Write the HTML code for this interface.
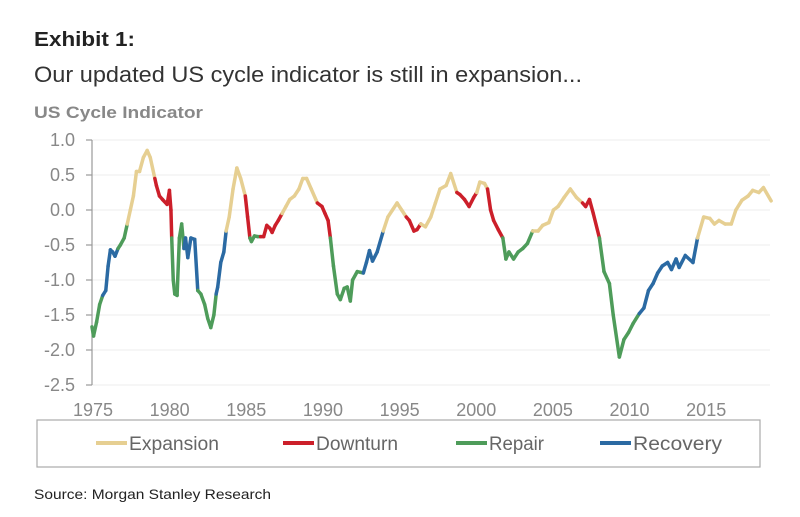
<!DOCTYPE html>
<html><head><meta charset="utf-8"><style>
html,body{margin:0;padding:0;background:#fff;}
svg{display:block;font-family:"Liberation Sans Narrow","Liberation Sans",sans-serif;}
</style></head><body>
<svg id="chart" width="800" height="517" viewBox="0 0 800 517" xmlns="http://www.w3.org/2000/svg">
<text x="34" y="46" font-size="20" font-weight="bold" fill="#222" textLength="101" lengthAdjust="spacingAndGlyphs">Exhibit 1:</text>
<text x="34" y="82" font-size="22" fill="#333" textLength="548" lengthAdjust="spacingAndGlyphs">Our updated US cycle indicator is still in expansion...</text>
<text x="34" y="118" font-size="17" font-weight="bold" fill="#888" textLength="169" lengthAdjust="spacingAndGlyphs">US Cycle Indicator</text>
<g id="grid"></g>
<g id="yaxis"></g>
<g id="xaxis"></g>
<g id="series"></g>
<g>
<rect x="37" y="420" width="723" height="47" fill="none" stroke="#aaa" stroke-width="1.2"/>
<g><line x1="96" y1="443" x2="127" y2="443" stroke="#e6cf92" stroke-width="4"/><text x="129" y="450" font-size="19" fill="#666" textLength="90" lengthAdjust="spacingAndGlyphs">Expansion</text></g>
<g><line x1="283" y1="443" x2="314" y2="443" stroke="#cc1f2a" stroke-width="4"/><text x="316" y="450" font-size="19" fill="#666" textLength="82" lengthAdjust="spacingAndGlyphs">Downturn</text></g>
<g><line x1="456" y1="443" x2="487" y2="443" stroke="#4e9c5a" stroke-width="4"/><text x="489" y="450" font-size="19" fill="#666" textLength="55" lengthAdjust="spacingAndGlyphs">Repair</text></g>
<g><line x1="600" y1="443" x2="631" y2="443" stroke="#2b6aa3" stroke-width="4"/><text x="633" y="450" font-size="19" fill="#666" textLength="89" lengthAdjust="spacingAndGlyphs">Recovery</text></g>
</g>
<text x="34" y="499" font-size="14" fill="#222" textLength="237" lengthAdjust="spacingAndGlyphs">Source: Morgan Stanley Research</text>
</svg>
<script>
const years=[1975.0,1975.1,1975.3,1975.5,1975.7,1975.9,1976.05,1976.2,1976.35,1976.5,1976.7,1976.85,1977.1,1977.3,1977.5,1977.7,1977.9,1978.1,1978.35,1978.6,1978.8,1979.1,1979.2,1979.4,1979.6,1979.9,1980.05,1980.15,1980.2,1980.3,1980.4,1980.55,1980.7,1980.85,1981.0,1981.1,1981.25,1981.45,1981.7,1981.9,1982.1,1982.35,1982.55,1982.75,1982.95,1983.1,1983.2,1983.4,1983.6,1983.75,1983.95,1984.2,1984.45,1984.7,1985.0,1985.15,1985.3,1985.4,1985.6,1985.8,1986.0,1986.2,1986.4,1986.6,1986.75,1986.95,1987.15,1987.4,1987.65,1987.9,1988.2,1988.5,1988.75,1989.0,1989.3,1989.7,1990.0,1990.2,1990.4,1990.55,1990.75,1991.0,1991.2,1991.45,1991.65,1991.85,1992.0,1992.3,1992.7,1992.9,1993.1,1993.3,1993.6,1994.0,1994.3,1994.6,1994.9,1995.2,1995.5,1995.7,1996.0,1996.2,1996.45,1996.75,1997.1,1997.4,1997.7,1998.1,1998.4,1998.8,1999.0,1999.3,1999.6,1999.9,2000.1,2000.3,2000.6,2000.8,2001.0,2001.2,2001.5,2001.8,2002.0,2002.2,2002.5,2002.8,2003.1,2003.4,2003.75,2004.1,2004.4,2004.8,2005.1,2005.4,2005.8,2006.2,2006.6,2007.0,2007.2,2007.45,2007.7,2008.1,2008.4,2008.75,2009.0,2009.4,2009.7,2010.0,2010.3,2010.7,2011.0,2011.3,2011.6,2011.9,2012.2,2012.55,2012.8,2013.1,2013.3,2013.7,2014.2,2014.5,2014.9,2015.3,2015.6,2015.9,2016.3,2016.7,2017.0,2017.4,2017.8,2018.1,2018.5,2018.8,2019.3];
const values=[-1.67,-1.8,-1.6,-1.35,-1.22,-1.15,-0.8,-0.57,-0.6,-0.66,-0.55,-0.5,-0.4,-0.2,0.0,0.2,0.55,0.55,0.75,0.85,0.75,0.45,0.35,0.2,0.15,0.08,0.28,0.0,-0.4,-1.0,-1.2,-1.22,-0.4,-0.2,-0.55,-0.4,-0.68,-0.4,-0.42,-1.15,-1.2,-1.35,-1.55,-1.68,-1.5,-1.2,-1.1,-0.75,-0.6,-0.3,-0.1,0.3,0.6,0.45,0.2,-0.1,-0.4,-0.45,-0.37,-0.38,-0.38,-0.38,-0.22,-0.26,-0.32,-0.22,-0.15,-0.05,0.05,0.15,0.2,0.3,0.45,0.45,0.3,0.1,0.05,-0.05,-0.15,-0.4,-0.8,-1.2,-1.28,-1.12,-1.1,-1.3,-1.0,-0.88,-0.9,-0.75,-0.58,-0.73,-0.6,-0.3,-0.1,0.0,0.1,0.0,-0.1,-0.15,-0.3,-0.28,-0.2,-0.24,-0.1,0.1,0.3,0.35,0.52,0.25,0.22,0.15,0.05,0.18,0.25,0.4,0.38,0.3,0.0,-0.15,-0.28,-0.4,-0.7,-0.6,-0.7,-0.6,-0.55,-0.48,-0.3,-0.3,-0.22,-0.18,0.0,0.05,0.18,0.3,0.18,0.1,0.05,0.15,-0.05,-0.4,-0.88,-1.05,-1.5,-2.1,-1.85,-1.75,-1.62,-1.48,-1.4,-1.15,-1.05,-0.9,-0.8,-0.75,-0.85,-0.7,-0.82,-0.65,-0.75,-0.4,-0.1,-0.12,-0.2,-0.15,-0.2,-0.2,0.0,0.14,0.2,0.28,0.25,0.32,0.13];
const phases="RRRRRVVVVVVRRREEEEEEEEDDDDDDDRRRRRRVVVVVRRRRRRVVVVEEEEEDDRRRRDDDDDDDEEEEEEEEDDDDRRRRRRRRRVVVVVEEEEEDDDDEEEEEEEDDDDDEEEDDDDRRRRRRREEEEEEEEEDDDDRRRRRRRRVVVVVVVVVVVVEEEEEEEEEEEEE";
const yTicks=[1.0,0.5,0.0,-0.5,-1.0,-1.5,-2.0,-2.5];
const xTicks=[1975,1980,1985,1990,1995,2000,2005,2010,2015];
const NS="http://www.w3.org/2000/svg";
const X0=92,X1=770,Y_TOP=140,Y_BOT=385;
function xs(yr){return X0+(yr-1975)*15.33;}
function ys(v){return Y_TOP+(1.0-v)*(Y_BOT-Y_TOP)/3.5;}
const colors={E:"#e6cf92",D:"#cc1f2a",R:"#4e9c5a",V:"#2b6aa3"};
const grid=document.getElementById('grid'),yax=document.getElementById('yaxis'),xax=document.getElementById('xaxis'),ser=document.getElementById('series');
yTicks.forEach(function(t){
  const l=document.createElementNS(NS,'line');
  
  
  l.setAttribute('x1',X0);l.setAttribute('x2',X1);l.setAttribute('y1',ys(t));l.setAttribute('y2',ys(t));
  l.setAttribute('stroke','#ececec');l.setAttribute('stroke-width','1');
  grid.appendChild(l);
  const tk=document.createElementNS(NS,'line');
  
  
  tk.setAttribute('x1',X0-6);tk.setAttribute('x2',X0);tk.setAttribute('y1',ys(t));tk.setAttribute('y2',ys(t));
  tk.setAttribute('stroke','#999');tk.setAttribute('stroke-width','1.2');
  yax.appendChild(tk);
  const tx=document.createElementNS(NS,'text');
  
  
  tx.setAttribute('x',75);tx.setAttribute('y',ys(t)+6);tx.setAttribute('text-anchor','end');
  tx.setAttribute('font-size','18');tx.setAttribute('fill','#888');
  tx.textContent=t.toFixed(1);
  yax.appendChild(tx);
});
const ax=document.createElementNS(NS,'line');


ax.setAttribute('x1',X0);ax.setAttribute('x2',X0);ax.setAttribute('y1',Y_TOP);ax.setAttribute('y2',Y_BOT);
ax.setAttribute('stroke','#999');ax.setAttribute('stroke-width','1.2');
yax.appendChild(ax);
xTicks.forEach(function(t){
  const tx=document.createElementNS(NS,'text');
  
  
  tx.setAttribute('x',xs(t)+1);tx.setAttribute('y',416);tx.setAttribute('text-anchor','middle');
  tx.setAttribute('font-size','18');tx.setAttribute('fill','#888');
  tx.textContent=String(t);
  xax.appendChild(tx);
});
for(let i=1;i<years.length;i++){
  const l=document.createElementNS(NS,'line');
  
  
  l.setAttribute('x1',xs(years[i-1]));l.setAttribute('y1',ys(values[i-1]));
  l.setAttribute('x2',xs(years[i]));l.setAttribute('y2',ys(values[i]));
  l.setAttribute('stroke',colors[phases[i]]);l.setAttribute('stroke-width','3.5');
  l.setAttribute('stroke-linecap','round');
  ser.appendChild(l);
}
</script>
</body></html>
